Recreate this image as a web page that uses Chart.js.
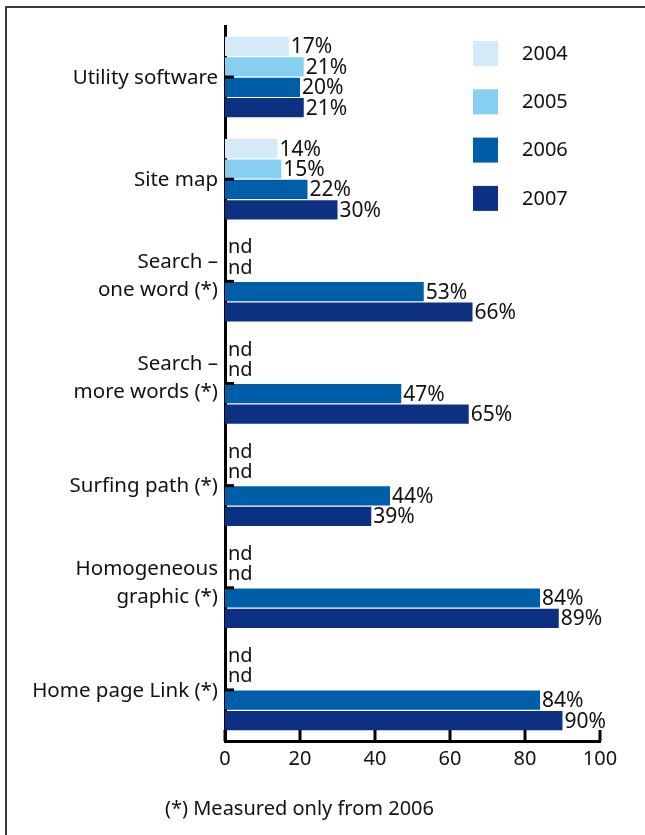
<!DOCTYPE html>
<html>
<head>
<meta charset="utf-8">
<script src="https://cdn.jsdelivr.net/npm/chart.js@4/dist/chart.umd.min.js"></script>
<style>
  html, body { margin: 0; padding: 0; background: #fff; }
  #wrap { position: relative; width: 645px; height: 835px; overflow: hidden; }
  #frame {
    position: absolute; left: 5px; top: 6px; width: 800px; height: 900px;
    border-left: 2px solid #3a3a3a; border-top: 2px solid #3a3a3a;
  }
  canvas { position: absolute; left: 0; top: 0; }
</style>
</head>
<body>
<div id="wrap">
  <div id="frame"></div>
  <canvas id="chart" width="645" height="835"></canvas>
</div>
<script>
// categories and yearly shares (null = not measured that year)
const categories = [
  "Utility software",
  "Site map",
  ["Search –", "one word (*)"],
  ["Search –", "more words (*)"],
  "Surfing path (*)",
  ["Homogeneous", "graphic (*)"],
  "Home page Link (*)"
];
const years = ["2004", "2005", "2006", "2007"];
const values2004 = [17, 14, null, null, null, null, null];
const values2005 = [21, 15, null, null, null, null, null];
const values2006 = [20, 22, 53, 47, 44, 84, 84];
const values2007 = [21, 30, 66, 65, 39, 89, 90];
const xTicks = [0, 20, 40, 60, 80, 100];
const footnote = "(*) Measured only from 2006";

const colors = ["#d4eaf8", "#87cff0", "#005ea8", "#0c3082"];
const FONT = "'Noto Sans', sans-serif";
const CAT_PCT = 0.8;

// category names, value labels, "nd" markers, inward ticks, legend, footnote
const extras = {
  id: "extras",
  afterDatasetsDraw(chart) {
    const ctx = chart.ctx;
    const x = chart.scales.x, y = chart.scales.y;
    const band = y.getPixelForValue(1) - y.getPixelForValue(0);
    const slot = band * CAT_PCT / years.length;
    const left = chart.chartArea.left;
    ctx.save();
    ctx.fillStyle = "#111";
    ctx.textBaseline = "middle";

    // category names, two-line names sit with the last line near the tick
    ctx.textAlign = "right";
    ctx.font = "20.5px " + FONT;
    categories.forEach((c, i) => {
      const py = y.getPixelForValue(i);
      const lines = Array.isArray(c) ? c : [c];
      const base = lines.length > 1 ? py + 9 : py + 1;
      lines.forEach((ln, k) => {
        ctx.fillText(ln, left - 7, base - (lines.length - 1 - k) * 28);
      });
    });

    ctx.textAlign = "left";
    chart.data.datasets.forEach((ds, di) => {
      ds.data.forEach((v, i) => {
        const cy = y.getPixelForValue(i) + (di - (years.length - 1) / 2) * slot;
        if (v === null) {
          ctx.font = "20px " + FONT;
          ctx.fillText("nd", x.getPixelForValue(0) + 3, cy - 3);
        } else {
          ctx.font = "21px " + FONT;
          ctx.fillText(v + "%", x.getPixelForValue(v) + 2, cy + 1);
        }
      });
    });

    // tick marks pointing into the plot
    ctx.strokeStyle = "#000";
    ctx.lineWidth = 3;
    const bottom = chart.chartArea.bottom;
    xTicks.forEach(t => {
      const px = x.getPixelForValue(t);
      ctx.beginPath();
      ctx.moveTo(px, bottom);
      ctx.lineTo(px, bottom - 11);
      ctx.stroke();
    });
    categories.forEach((c, i) => {
      const py = y.getPixelForValue(i);
      ctx.beginPath();
      ctx.moveTo(left, py);
      ctx.lineTo(left + 9, py);
      ctx.stroke();
    });

    // legend
    ctx.font = "20px " + FONT;
    chart.data.datasets.forEach((ds, di) => {
      const top = 41 + di * 48.3;
      ctx.fillStyle = ds.backgroundColor;
      ctx.fillRect(473, top, 25, 25);
      ctx.fillStyle = "#111";
      ctx.fillText(ds.label, 522, top + 13);
    });

    // footnote
    ctx.font = "20px " + FONT;
    ctx.fillText(footnote, 165, 809);
    ctx.restore();
  }
};

new Chart(document.getElementById("chart"), {
  type: "bar",
  data: {
    labels: categories,
    datasets: [values2004, values2005, values2006, values2007].map((d, i) => ({
      label: years[i],
      data: d,
      backgroundColor: colors[i],
      barPercentage: 0.94,
      categoryPercentage: CAT_PCT
    }))
  },
  options: {
    indexAxis: "y",
    responsive: false,
    animation: false,
    layout: { padding: { top: 26, right: 45, bottom: 54, left: 0 } },
    plugins: { legend: { display: false }, tooltip: { enabled: false } },
    scales: {
      x: {
        min: 0,
        max: 100,
        afterFit(scale) { scale.height = 40; },
        afterBuildTicks(scale) { scale.ticks = xTicks.map(v => ({ value: v })); },
        grid: { display: false, drawTicks: false },
        border: { display: true, color: "#000", width: 3 },
        ticks: { color: "#111", font: { family: FONT, size: 20 }, padding: 6, maxRotation: 0 }
      },
      y: {
        afterFit(scale) { scale.width = 225; },
        grid: { display: false, drawTicks: false },
        border: { display: true, color: "#000", width: 3 },
        ticks: { display: false }
      }
    }
  },
  plugins: [extras]
});
</script>
</body>
</html>
